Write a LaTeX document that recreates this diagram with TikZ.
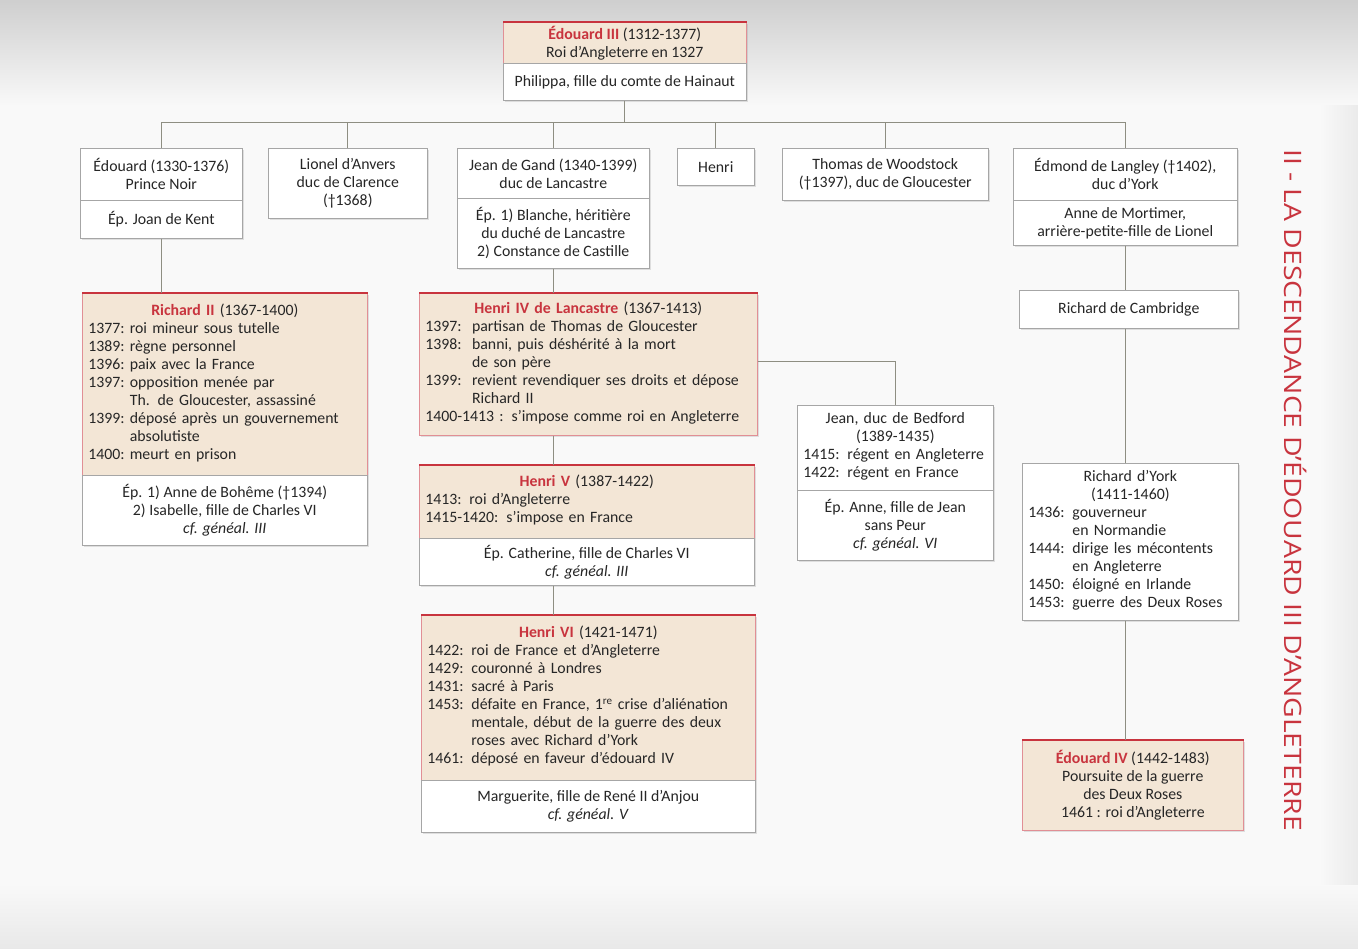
\documentclass[tikz,border=0pt]{standalone}
\usepackage{fontspec}
\setmainfont{Carlito}
\newfontfamily\headfont{Open Sans}
\usetikzlibrary{shadows,calc}

\definecolor{kred}{HTML}{C8343E}
\definecolor{beige}{HTML}{F3E6D6}
\definecolor{frame}{HTML}{A6A6A6}
\definecolor{link}{HTML}{8E8E82}
\definecolor{ink}{HTML}{262626}

\newcommand\bodyfont{\fontsize{15.8}{18}\selectfont}
\newcommand\kname[1]{\textcolor{kred}{\bfseries #1}}
\newcommand\ctitle[1]{{\centering #1\par}\noindent}

\tikzset{
  part/.style={draw=frame, line width=0.6pt, fill=white, inner xsep=6pt, inner ysep=2pt,
    anchor=north west, font=\bodyfont, text=ink, align=center,
    drop shadow={shadow xshift=1.5pt, shadow yshift=-1.5pt, opacity=0.22}},
  reign/.style={part, fill=beige, draw=kred!55},
  crown/.style={draw=kred, line width=2.4pt},
  conn/.style={draw=link, line width=0.8pt},
}

\begin{document}
\begin{tikzpicture}[x=1pt, y=-1pt]
\useasboundingbox (0,0) rectangle (1358,949);

% paper
\fill[gray!5] (0,0) rectangle (1358,949);
\shade[left color=gray!5, right color=gray!16] (1320,0) rectangle (1358,949);
\shade[top color=gray!38, bottom color=gray!5] (0,0) rectangle (1358,105);
\shade[top color=gray!5, bottom color=gray!18] (0,885) rectangle (1358,949);

% Edouard III
\node[reign, minimum width=243, minimum height=41] (e3a) at (503,22)
  {\kname{Édouard III} (1312-1377)\\Roi d’Angleterre en 1327};
\node[part, minimum width=243, minimum height=37] (e3b) at (503,63)
  {Philippa, fille du comte de Hainaut};
\draw[crown] (e3a.north west) -- (e3a.north east);

% children of Edouard III
\node[part, minimum width=162, minimum height=52] (edwa) at (80,148)
  {Édouard (1330-1376)\\Prince Noir};
\node[part, minimum width=162, minimum height=38] (edwb) at (80,200)
  {Ép. Joan de Kent};

\node[part, minimum width=159, minimum height=70] (lionel) at (268,148)
  {Lionel d’Anvers\\duc de Clarence\\(†1368)};

\node[part, minimum width=192, minimum height=50] (jeana) at (457,148)
  {Jean de Gand (1340-1399)\\duc de Lancastre};
\node[part, minimum width=192, minimum height=70] (jeanb) at (457,198)
  {Ép. 1) Blanche, héritière\\du duché de Lancastre\\2) Constance de Castille};

\node[part, minimum width=77, minimum height=37] (henri) at (677,148) {Henri};

\node[part, minimum width=206, minimum height=52] (thomas) at (782,148)
  {Thomas de Woodstock\\(†1397), duc de Gloucester};

\node[part, minimum width=224, minimum height=52] (edma) at (1013,148)
  {Édmond de Langley (†1402),\\duc d’York};
\node[part, minimum width=224, minimum height=45] (edmb) at (1013,200)
  {Anne de Mortimer,\\arrière-petite-fille de Lionel};

% Richard II
\node[reign, minimum width=285, minimum height=182, text width=273, align=left] (r2a) at (82,293)
  {\ctitle{\kname{Richard II} (1367-1400)}%
   \begin{tabular}[t]{@{}l@{\ }l@{}}
   1377: & roi mineur sous tutelle\\
   1389: & règne personnel\\
   1396: & paix avec la France\\
   1397: & opposition menée par\\
         & Th. de Gloucester, assassiné\\
   1399: & déposé après un gouvernement\\
         & absolutiste\\
   1400: & meurt en prison
   \end{tabular}};
\node[part, minimum width=285, minimum height=70] (r2b) at (82,475)
  {Ép. 1) Anne de Bohême (†1394)\\2) Isabelle, fille de Charles VI\\\textit{cf. généal. III}};
\draw[crown] (r2a.north west) -- (r2a.north east);

% Henri IV
\node[reign, minimum width=338, minimum height=142, text width=326, align=left] (h4) at (419,293)
  {\ctitle{\kname{Henri IV de Lancastre} (1367-1413)}%
   \begin{tabular}[t]{@{}l@{\ \ }l@{}}
   1397: & partisan de Thomas de Gloucester\\
   1398: & banni, puis déshérité à la mort\\
         & de son père\\
   1399: & revient revendiquer ses droits et dépose\\
         & Richard II\\
   \multicolumn{2}{@{}l@{}}{1400-1413 : s’impose comme roi en Angleterre}
   \end{tabular}};
\draw[crown] (h4.north west) -- (h4.north east);

% Henri V
\node[reign, minimum width=335, minimum height=73, text width=323, align=left] (h5a) at (419,465)
  {\ctitle{\kname{Henri V} (1387-1422)}%
   \begin{tabular}[t]{@{}l@{}}
   1413: roi d’Angleterre\\
   1415-1420: s’impose en France
   \end{tabular}};
\node[part, minimum width=335, minimum height=47] (h5b) at (419,538)
  {Ép. Catherine, fille de Charles VI\\\textit{cf. généal. III}};
\draw[crown] (h5a.north west) -- (h5a.north east);

% Henri VI
\node[reign, minimum width=334, minimum height=165, text width=322, align=left] (h6a) at (421,615)
  {\ctitle{\kname{Henri VI} (1421-1471)}%
   \begin{tabular}[t]{@{}l@{\enspace}l@{}}
   1422: & roi de France et d’Angleterre\\
   1429: & couronné à Londres\\
   1431: & sacré à Paris\\
   1453: & défaite en France, 1\textsuperscript{re} crise d’aliénation\\
         & mentale, début de la guerre des deux\\
         & roses avec Richard d’York\\
   1461: & déposé en faveur d’édouard IV
   \end{tabular}};
\node[part, minimum width=334, minimum height=52] (h6b) at (421,780)
  {Marguerite, fille de René II d’Anjou\\\textit{cf. généal. V}};
\draw[crown] (h6a.north west) -- (h6a.north east);

% Jean de Bedford
\node[part, minimum width=196, minimum height=85, text width=184, align=left] (beda) at (797,405)
  {\ctitle{Jean, duc de Bedford\\(1389-1435)}%
   \begin{tabular}[t]{@{}l@{}}
   1415: régent en Angleterre\\
   1422: régent en France
   \end{tabular}};
\node[part, minimum width=196, minimum height=70] (bedb) at (797,490)
  {Ép. Anne, fille de Jean\\sans Peur\\\textit{cf. généal. VI}};

% York line
\node[part, minimum width=219, minimum height=38] (camb) at (1019,290) {Richard de Cambridge};

\node[part, minimum width=216, minimum height=157, text width=204, align=left] (york) at (1022,463)
  {\ctitle{Richard d’York\\(1411-1460)}%
   \begin{tabular}[t]{@{}l@{\enspace}l@{}}
   1436: & gouverneur\\
         & en Normandie\\
   1444: & dirige les mécontents\\
         & en Angleterre\\
   1450: & éloigné en Irlande\\
   1453: & guerre des Deux Roses
   \end{tabular}};

\node[reign, minimum width=221, minimum height=90] (e4) at (1022,740)
  {\kname{Édouard IV} (1442-1483)\\Poursuite de la guerre\\des Deux Roses\\1461 : roi d’Angleterre};
\draw[crown] (e4.north west) -- (e4.north east);

% connectors
\path (edwa.north) ++(0,-26) coordinate (busL);
\path (edma.north) ++(0,-26) coordinate (busR);
\draw[conn] (e3b.south) -- (e3b.south |- busL);
\draw[conn] (busL) -- (busR);
\foreach \c in {edwa, lionel, jeana, henri, thomas, edma}
  \draw[conn] (\c.north) -- (\c.north |- busL);

\draw[conn] (edwb.south) -- (edwb.south |- r2a.north);
\draw[conn] (jeanb.south) -- (jeanb.south |- h4.north);
\draw[conn] (h4.south -| jeanb.south) -- (h5a.north -| jeanb.south);
\draw[conn] (h5b.south -| jeanb.south) -- (h6a.north -| jeanb.south);
\draw[conn] ([yshift=3pt]h4.east) -| (beda.north);

\draw[conn] (edmb.south) -- (edmb.south |- camb.north);
\draw[conn] (camb.south -| edmb.south) -- (york.north -| edmb.south);
\draw[conn] (york.south -| edmb.south) -- (e4.north -| edmb.south);

% title
\node[rotate=-90, text=kred, font=\headfont\fontsize{24}{24}\selectfont] (title) at (1296,490)
  {\scalebox{1.18}[1]{II - LA DESCENDANCE D’ÉDOUARD III D’ANGLETERRE}};
\end{tikzpicture}
\end{document}
